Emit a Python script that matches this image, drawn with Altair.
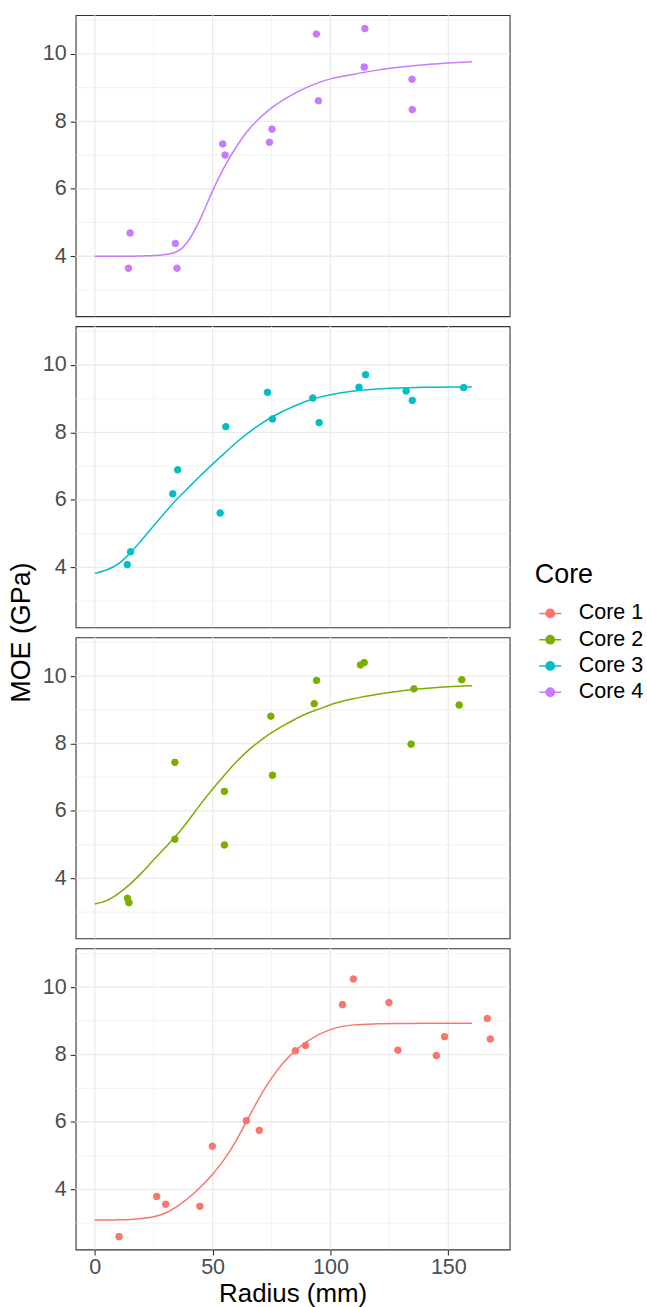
import altair as alt
import pandas as pd

cores = ["Core 1", "Core 2", "Core 3", "Core 4"]
colors = ["#F8766D", "#7CAE00", "#00BFC4", "#C77CFF"]

# observed points
r1 = [10.3, 26.3, 30.1, 44.6, 49.9, 64.3, 69.8, 85.1, 89.4, 105.1, 109.7, 124.8, 128.6, 144.9, 148.4, 166.5, 167.8]
m1 = [2.60, 3.79, 3.56, 3.50, 5.28, 6.04, 5.75, 8.11, 8.27, 9.48, 10.24, 9.54, 8.13, 7.97, 8.53, 9.07, 8.46]
r2 = [13.9, 14.5, 34.0, 34.0, 55.0, 55.0, 74.7, 75.4, 93.1, 94.1, 112.7, 114.3, 134.2, 135.4, 154.6, 155.7]
m2 = [3.41, 3.28, 7.44, 5.16, 6.58, 4.99, 8.81, 7.06, 9.18, 9.87, 10.33, 10.40, 7.98, 9.62, 9.14, 9.89]
r3 = [13.8, 15.2, 33.1, 35.2, 53.2, 55.6, 73.3, 75.4, 92.5, 95.2, 112.1, 114.9, 132.1, 134.7, 156.5]
m3 = [4.08, 4.46, 6.18, 6.89, 5.61, 8.17, 9.19, 8.40, 9.02, 8.29, 9.34, 9.71, 9.23, 8.95, 9.33]
r4 = [14.3, 15.0, 34.2, 34.9, 54.3, 55.3, 74.1, 75.2, 94.0, 94.9, 114.3, 114.6, 134.6, 134.7]
m4 = [3.645, 4.69, 4.38, 3.645, 7.33, 7.00, 7.38, 7.77, 10.59, 8.61, 9.61, 10.75, 9.25, 8.35]

# fitted curves
fit_r = [0, 5, 10, 15, 20, 25, 30, 35, 40, 45, 50, 55, 60, 65, 70, 75, 80, 85, 90, 95, 100, 110, 120, 130, 140, 150, 160]
fit1 = [3.09, 3.09, 3.10, 3.11, 3.14, 3.19, 3.30, 3.50, 3.76, 4.08, 4.45, 4.90, 5.45, 6.10, 6.74, 7.30, 7.76, 8.11, 8.38, 8.59, 8.74, 8.88, 8.91, 8.92, 8.93, 8.93, 8.93]
fit2 = [3.24, 3.34, 3.55, 3.83, 4.17, 4.55, 4.92, 5.30, 5.74, 6.21, 6.65, 7.06, 7.45, 7.79, 8.07, 8.32, 8.53, 8.72, 8.89, 9.02, 9.15, 9.33, 9.46, 9.56, 9.63, 9.68, 9.71]
fit3 = [3.82, 3.92, 4.10, 4.42, 4.82, 5.23, 5.64, 6.03, 6.38, 6.73, 7.06, 7.38, 7.70, 7.98, 8.23, 8.45, 8.63, 8.79, 8.93, 9.04, 9.12, 9.23, 9.29, 9.32, 9.34, 9.35, 9.35]
fit4 = [4.00, 4.00, 4.00, 4.00, 4.01, 4.02, 4.05, 4.14, 4.49, 5.14, 5.94, 6.65, 7.24, 7.73, 8.10, 8.40, 8.64, 8.84, 9.01, 9.15, 9.26, 9.40, 9.52, 9.61, 9.68, 9.73, 9.77]

# grid / tick positions
major_x = [0, 50, 100, 150]
minor_x = [25, 75, 125]
major_y = [4, 6, 8, 10]
minor_y = [3, 5, 7, 9, 11]

pts = pd.concat([
    pd.DataFrame({"Core": c, "Radius": r, "MOE": m})
    for c, r, m in zip(cores, [r1, r2, r3, r4], [m1, m2, m3, m4])
])
fits = pd.concat([
    pd.DataFrame({"Core": c, "Radius": fit_r, "MOE": f})
    for c, f in zip(cores, [fit1, fit2, fit3, fit4])
])

FONT = "Liberation Sans"
GRID = "#EBEBEB"
x_scale = alt.Scale(domain=[-8.1, 176], nice=False, zero=False)
y_scale = alt.Scale(domain=[2.22, 11.15], nice=False, zero=False)
color_scale = alt.Scale(domain=cores, range=colors)

common = dict(
    grid=False, domain=False,
    tickColor="#333333", tickWidth=1.1, tickSize=5.5,
    labelFont=FONT, labelFontSize=21.6, labelColor="#4D4D4D",
    titleFont=FONT, titleFontSize=27, titleColor="#000000", titleFontWeight="normal",
)

def x_axis(bottom):
    kw = dict(common)
    kw.update(values=major_x)
    if bottom:
        kw.update(title="Radius (mm)", labelPadding=1.5, titlePadding=3, titleFontSize=26)
    else:
        kw.update(title=None, labels=False, ticks=False)
    return alt.Axis(**kw)

def y_axis(with_title):
    kw = dict(common)
    kw.update(values=major_y, labelPadding=4)
    if with_title:
        kw.update(title="MOE (GPa)", titleX=-54.7, titleY=307.3, titleBaseline="middle",
                  titleAlign="center", titleAngle=270)
    else:
        kw.update(title=None)
    return alt.Axis(**kw)

legend_symbol = "M-1,0L1,0M0.38,0A0.38,0.38,0,1,1,-0.38,0A0.38,0.38,0,1,1,0.38,0Z"

LEG = alt.Legend(
    title="Core", orient="none", legendX=461.3, legendY=549,
    titleFont=FONT, titleFontSize=27, titleFontWeight="normal", titleColor="#000000",
    titlePadding=13,
    labelFont=FONT, labelFontSize=21.6, labelColor="#000000", labelOffset=16.6,
    symbolType=legend_symbol, symbolSize=484, symbolStrokeWidth=1.5, symbolOffset=3.5,
    symbolOpacity=1, rowPadding=3.4,
)

def panel(core, bottom, with_title):
    p = pts[pts["Core"] == core]
    f = fits[fits["Core"] == core]
    xa = x_axis(bottom)
    ya = y_axis(with_title)
    X = lambda fld: alt.X(fld, scale=x_scale, axis=xa)
    Y = lambda fld: alt.Y(fld, scale=y_scale, axis=ya)
    gx_major = alt.Chart(pd.DataFrame({"gx": major_x})).mark_rule(color=GRID, strokeWidth=1.3).encode(x=X("gx:Q"))
    gx_minor = alt.Chart(pd.DataFrame({"gx": minor_x})).mark_rule(color=GRID, strokeWidth=0.65).encode(x=X("gx:Q"))
    gy_major = alt.Chart(pd.DataFrame({"gy": major_y})).mark_rule(color=GRID, strokeWidth=1.3).encode(y=Y("gy:Q"))
    gy_minor = alt.Chart(pd.DataFrame({"gy": minor_y})).mark_rule(color=GRID, strokeWidth=0.65).encode(y=Y("gy:Q"))
    line = alt.Chart(f).mark_line(strokeWidth=1.5, interpolate="monotone").encode(
        x=X("Radius:Q"), y=Y("MOE:Q"),
        stroke=alt.Stroke("Core:N", scale=color_scale, legend=LEG),
    )
    dots = alt.Chart(p).mark_point(filled=True, size=44, strokeWidth=1, opacity=1).encode(
        x=X("Radius:Q"), y=Y("MOE:Q"),
        fill=alt.Fill("Core:N", scale=color_scale, legend=LEG),
        stroke=alt.Stroke("Core:N", scale=color_scale, legend=LEG),
    )
    return alt.layer(gx_minor, gy_minor, gx_major, gy_major, line, dots).properties(width=436, height=302.5)

order = ["Core 4", "Core 3", "Core 2", "Core 1"]
panels = [panel(c, bottom=(i == 3), with_title=(i == 1)) for i, c in enumerate(order)]

chart = alt.vconcat(*panels, spacing=9.5, bounds="flush").configure(
    font=FONT,
    padding={"left": 6, "top": 10.2, "right": 3, "bottom": 0},
).configure_view(
    stroke="#333333", strokeWidth=1.1,
)

chart.save("out.html", embed_options={"renderer": "svg", "actions": False})
